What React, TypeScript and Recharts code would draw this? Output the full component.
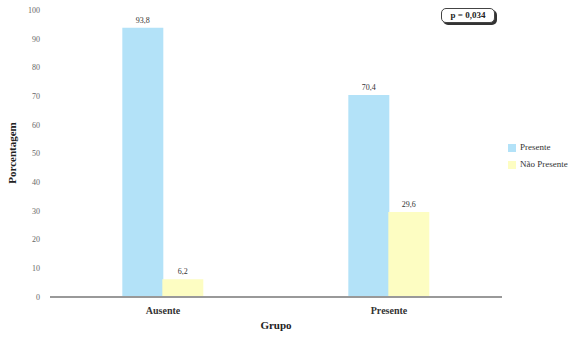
import React from 'react';
import { BarChart, Bar, XAxis, YAxis, Legend, LabelList, Customized } from 'recharts';

const categories = ['Ausente', 'Presente'];
const presente = [93.8, 70.4];
const naoPresente = [6.2, 29.6];
const yTicks = [0, 10, 20, 30, 40, 50, 60, 70, 80, 90, 100];
const seriesNames = ['Presente', 'Não Presente'];
const pValue = 'p = 0,034';

const data = categories.map((c, i) => ({ grupo: c, presente: presente[i], naoPresente: naoPresente[i] }));

const fmt = (v: any) => String(Number(v).toFixed(1)).replace('.', ',');
const FONT = '"Liberation Serif", serif';

const YTitle = () => (
  <text x={16} y={153} transform="rotate(-90 16 153)" textAnchor="middle" fontFamily={FONT} fontWeight="bold" fontSize={11} fill="#222">
    Porcentagem
  </text>
);

export default function App() {
  return (
    <div style={{ position: 'fixed', left: 0, top: 0, width: 580, height: 346, background: '#fff' }}>
      <BarChart width={580} height={346} data={data} margin={{ top: 10, right: 78, bottom: 9, left: 0 }} barCategoryGap="32%" barGap={-1}>
        <XAxis dataKey="grupo" height={40} stroke="#999" strokeWidth={2} tickLine={false}
          tick={{ fontFamily: FONT, fontSize: 10, fill: '#333', fontWeight: 'bold' }} tickMargin={4}
          label={{ value: 'Grupo', position: 'insideBottom', offset: 8, style: { fontFamily: FONT, fontWeight: 'bold', fontSize: 11, fill: '#222' } }} />
        <YAxis width={50} domain={[0, 100]} ticks={yTicks} axisLine={false} tickLine={false} interval={0}
          tick={{ fontFamily: FONT, fontSize: 8, fill: '#666' }} tickMargin={4} />
        <Legend layout="vertical" align="center" verticalAlign="middle" iconType="square" iconSize={8}
          itemSorter={(item: any) => seriesNames.indexOf(item.value)}
          formatter={(value: any) => <span style={{ color: '#333' }}>{value}</span>}
          wrapperStyle={{ left: 508, top: 139, width: 'auto', fontFamily: FONT, fontSize: 9, lineHeight: '17px' }} />
        <Bar dataKey="presente" name={seriesNames[0]} fill="#b3e2f8" isAnimationActive={false}>
          <LabelList dataKey="presente" position="top" formatter={fmt} fill="#333" fontFamily={FONT} fontSize={8} />
        </Bar>
        <Bar dataKey="naoPresente" name={seriesNames[1]} fill="#fdfdc2" isAnimationActive={false}>
          <LabelList dataKey="naoPresente" position="top" formatter={fmt} fill="#333" fontFamily={FONT} fontSize={8} />
        </Bar>
        <Customized component={YTitle} />
      </BarChart>
      <div style={{ position: 'absolute', left: 441, top: 8, width: 52, height: 13, border: '1px solid #444', borderRadius: 5, boxShadow: '2px 2px 0 #333', fontFamily: FONT, fontSize: 9, fontWeight: 'bold', color: '#222', textAlign: 'center', lineHeight: '13px', background: '#fff' }}>
        {pValue}
      </div>
    </div>
  );
}
